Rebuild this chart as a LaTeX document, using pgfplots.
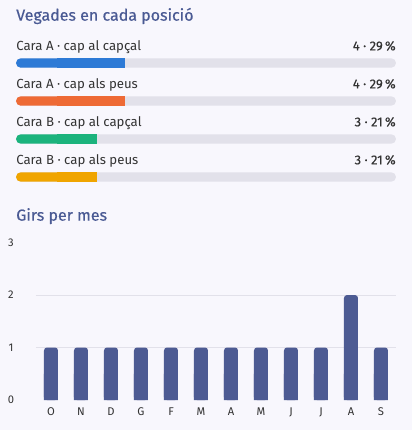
\documentclass[border=0pt]{standalone}
\usepackage{pgfplots}
\pgfplotsset{compat=1.18}
\usepackage{fontspec}
\setmainfont{Fira Sans}
\newfontfamily\medfont{Fira Sans}[FakeBold=0.5]
\newfontfamily\semfont{Fira Sans}[FakeBold=0.3]
\definecolor{bg}{HTML}{F8F7FD}
\definecolor{titlec}{HTML}{4A5A94}
\definecolor{txt}{HTML}{333333}
\definecolor{track}{HTML}{E2E1EA}
\definecolor{cblue}{HTML}{2D7AD6}
\definecolor{corange}{HTML}{EE6A35}
\definecolor{cgreen}{HTML}{1BB37D}
\definecolor{cyellow}{HTML}{F0A500}
\definecolor{barc}{HTML}{4D5B93}
\begin{document}
\begin{tikzpicture}
\fill[bg] (0,0) rectangle (309pt,-322.5pt);
\node[anchor=base west, inner sep=0, text=titlec, font=\medfont\fontsize{12}{14}\selectfont] at (12pt,-15.5pt) {Vegades en cada posició};
\node[anchor=base west, inner sep=0, text=titlec, font=\medfont\fontsize{12}{14}\selectfont] at (12pt,-165.5pt) {Girs per mes};

% progress bars: tracks and rounded left ends
\begin{axis}[at={(12pt,-33pt)}, anchor=north west, scale only axis,
  width=285pt, height=114pt, xmin=0, xmax=14, ymin=-0.5, ymax=3.5,
  y dir=reverse, axis lines=none, xbar, bar shift=0pt, bar width=7pt, clip=false]
\addplot[fill=track, draw=none, rounded corners=3.5pt] coordinates {(14,0) (14,1) (14,2) (14,3)};
\addplot[fill=cblue, draw=none, rounded corners=3.5pt] coordinates {(2.4,0)};
\addplot[fill=corange, draw=none, rounded corners=3.5pt] coordinates {(2.4,1)};
\addplot[fill=cgreen, draw=none, rounded corners=3.5pt] coordinates {(2.4,2)};
\addplot[fill=cyellow, draw=none, rounded corners=3.5pt] coordinates {(2.4,3)};
\begin{scope}[every node/.style={inner sep=0, text=txt, font=\fontsize{9.9}{11}\selectfont}]
\node[anchor=base west, yshift=9.5pt] at (axis cs:0,0) {Cara A · cap al capçal};
\node[anchor=base west, yshift=9.5pt] at (axis cs:0,1) {Cara A · cap als peus};
\node[anchor=base west, yshift=9.5pt] at (axis cs:0,2) {Cara B · cap al capçal};
\node[anchor=base west, yshift=9.5pt] at (axis cs:0,3) {Cara B · cap als peus};
\node[anchor=base east, yshift=9.5pt, font=\semfont\fontsize{9.75}{11}\selectfont] at (axis cs:14,0) {4 · 29\,\%};
\node[anchor=base east, yshift=9.5pt, font=\semfont\fontsize{9.75}{11}\selectfont] at (axis cs:14,1) {4 · 29\,\%};
\node[anchor=base east, yshift=9.5pt, font=\semfont\fontsize{9.75}{11}\selectfont] at (axis cs:14,2) {3 · 21\,\%};
\node[anchor=base east, yshift=9.5pt, font=\semfont\fontsize{9.75}{11}\selectfont] at (axis cs:14,3) {3 · 21\,\%};
\end{scope}
\end{axis}

% progress bars: values with square right ends (clipped to x >= 1.5)
\begin{axis}[at={(42.536pt,-33pt)}, anchor=north west, scale only axis,
  width=254.464pt, height=114pt, xmin=1.5, xmax=14, ymin=-0.5, ymax=3.5,
  y dir=reverse, axis lines=none, xbar, bar shift=0pt, bar width=7pt]
\addplot[fill=cblue, draw=none] coordinates {(4,0)};
\addplot[fill=corange, draw=none] coordinates {(4,1)};
\addplot[fill=cgreen, draw=none] coordinates {(3,2)};
\addplot[fill=cyellow, draw=none] coordinates {(3,3)};
\end{axis}

% monthly bar chart
\begin{axis}[at={(27pt,-300pt)}, anchor=south west, scale only axis,
  width=270pt, height=118.1pt, xmin=-0.5, xmax=11.5, ymin=0, ymax=3,
  axis line style={draw=none}, major tick length=0pt, tick style={draw=none},
  /pgf/number format/assume math mode=true,
  ytick={0,1,2,3}, extra y ticks={1,2}, extra y tick labels={},
  extra y tick style={ymajorgrids=true},
  grid style={color=track, line width=0.75pt},
  xtick={0,...,11}, xticklabels={O,N,D,G,F,M,A,M,J,J,A,S},
  ticklabel style={text=txt, font=\fontsize{8.4}{10}\selectfont},
  yticklabel style={anchor=center, xshift=-18.75pt},
  xticklabel style={anchor=center, yshift=-9pt},
  ybar, bar shift=0pt, bar width=10.5pt]
\addplot[fill=barc, draw=none, rounded corners=2.25pt] coordinates {(0,1) (1,1) (2,1) (3,1) (4,1) (5,1) (6,1) (7,1) (8,1) (9,1) (10,2) (11,1)};
\addplot[fill=barc, draw=none] coordinates {(0,0.5) (1,0.5) (2,0.5) (3,0.5) (4,0.5) (5,0.5) (6,0.5) (7,0.5) (8,0.5) (9,0.5) (10,0.5) (11,0.5)};
\end{axis}
\end{tikzpicture}
\end{document}
